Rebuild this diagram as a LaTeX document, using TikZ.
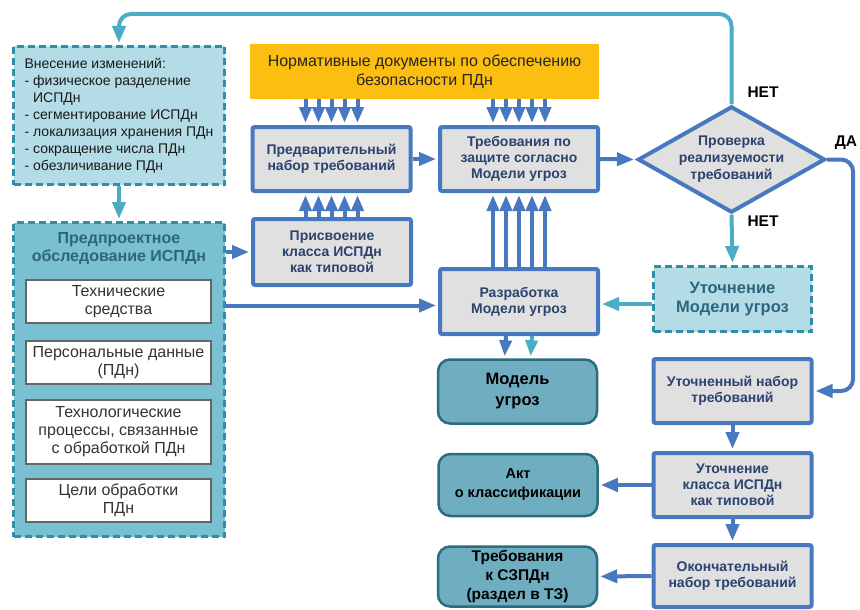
\documentclass[tikz,border=0pt]{standalone}
\usepackage{fontspec}
\setmainfont{Liberation Sans}
\usetikzlibrary{shapes.geometric,arrows.meta}
\definecolor{boxblue}{RGB}{72,120,192}
\definecolor{lineblue}{RGB}{75,172,198}
\definecolor{boxtext}{RGB}{44,66,112}
\definecolor{boxfill}{RGB}{224,224,224}
\definecolor{changefill}{RGB}{180,220,230}
\definecolor{changeline}{RGB}{50,142,168}
\definecolor{surveyfill}{RGB}{122,192,211}
\definecolor{surveytext}{RGB}{44,102,124}
\definecolor{resultfill}{RGB}{111,173,192}
\definecolor{resultline}{RGB}{44,108,128}
\definecolor{docfill}{RGB}{252,190,17}
\begin{document}
\begin{tikzpicture}[x=1pt,y=-1pt,shorten >=2pt]
        \tikzstyle{stage}=[rectangle,rounded corners=2pt,draw=boxblue,line width=4pt,fill=boxfill,text=boxtext,align=center,inner sep=0pt,minimum width=158pt,minimum height=64pt,font=\fontsize{14}{16}\selectfont\bfseries]
        \tikzstyle{decision}=[diamond,aspect=1.76,draw=boxblue,line width=4pt,fill=boxfill,text=boxtext,align=center,inner sep=0pt,minimum width=183pt,minimum height=102pt,font=\fontsize{14}{17}\selectfont\bfseries]
        \tikzstyle{change}=[rectangle,draw=changeline,dash pattern=on 7pt off 4pt,line width=3pt,fill=changefill,inner sep=0pt]
        \tikzstyle{survey}=[rectangle,draw=changeline,dash pattern=on 7pt off 4pt,line width=3pt,fill=surveyfill,inner sep=0pt]
        \tikzstyle{item}=[rectangle,draw=black!60,line width=2.5pt,fill=white,text=black!80,align=center,inner sep=0pt,minimum width=185pt,minimum height=43pt,font=\fontsize{16}{18}\selectfont]
        \tikzstyle{result}=[rectangle,rounded corners=12pt,draw=resultline,line width=2.5pt,fill=resultfill,align=center,inner sep=0pt,minimum width=159pt,minimum height=64pt,font=\fontsize{15.5}{19}\selectfont\bfseries]
        \tikzstyle{answer}=[font=\fontsize{15.5}{17}\selectfont\bfseries]
        \tikzstyle{edge}=[draw=boxblue,line width=4pt,-{Triangle[length=17pt,width=13pt]}]
        \tikzstyle{feed}=[edge,draw=lineblue]
        \tikzstyle{bundle}=[draw=boxblue,line width=4pt,-{Triangle[length=16pt,width=12pt]}]
        \useasboundingbox (0,0) rectangle (860,610);

        % left column
        \node [change,align=left,minimum width=211pt,minimum height=138pt,text=black!90,font=\fontsize{14}{17}\selectfont] (changes) at (119,115.5) {Внесение изменений:\\- физическое разделение\\\hphantom{- }ИСПДн\\- сегментирование ИСПДн\\- локализация хранения ПДн\\- сокращение числа ПДн\\- обезличивание ПДн};
        \node [survey,minimum width=211pt,minimum height=314pt] (survey) at (119,379.5) {};
        \node [text=surveytext,align=center,font=\fontsize{16}{18}\selectfont\bfseries] (surveyT) at (119,249) {Предпроектное\\обследование ИСПДн};
        \node [item] (hw) at (118.5,301.5) {Технические\\средства};
        \node [item] (pd) at (118.5,362.5) {Персональные данные\\(ПДн)};
        \node [item,minimum height=64pt] (proc) at (118.5,432) {Технологические\\процессы, связанные\\с обработкой ПДн};
        \node [item] (goal) at (118.5,500.5) {Цели обработки\\ПДн};

        % middle
        \node [rectangle,fill=docfill,minimum width=349pt,minimum height=55pt,align=center,text=black!85,font=\fontsize{16}{19}\selectfont] (norms) at (424.5,71.5) {Нормативные документы по обеспечению\\безопасности ПДн};
        \node [stage] (prev) at (331.5,159) {Предварительный\\набор требований};
        \node [stage,minimum height=66pt] (assign) at (332,252) {Присвоение\\класса ИСПДн\\как типовой};
        \node [stage] (req) at (519,159) {Требования по\\защите согласно\\Модели угроз};
        \node [stage,minimum height=65pt] (dev) at (519,301.5) {Разработка\\Модели угроз};
        \node [result,font=\fontsize{16.5}{21}\selectfont\bfseries] (model) at (517.5,391.5) {Модель\\угроз};
        \node [result,minimum height=62pt,font=\fontsize{14.5}{19}\selectfont\bfseries] (act) at (518,485) {Акт\\о классификации};
        \node [result,minimum height=60pt] (law) at (517.5,576.5) {Требования\\к СЗПДн\\(раздел в ТЗ)};

        % right column
        \node [decision] (check) at (731.5,159.5) {Проверка\\реализуемости\\требований};
        \node [change,minimum width=158pt,minimum height=65pt,align=center,text=surveytext,font=\fontsize{16.5}{19}\selectfont\bfseries] (refine) at (732.5,299) {Уточнение\\Модели угроз};
        \node [stage] (refset) at (732.5,391) {Уточненный набор\\требований};
        \node [stage] (reclass) at (732.5,485) {Уточнение\\класса ИСПДн\\как типовой};
        \node [stage,minimum height=62pt] (final) at (732.5,576) {Окончательный\\набор требований};

        \node [answer] (no1) at (763,92) {НЕТ};
        \node [answer] (yes) at (846,143) {ДА};
        \node [answer] (no2) at (763,221) {НЕТ};

        % connectors
        \draw[feed] (changes.south) -- (survey.north);
        \draw[feed,rounded corners=12pt] (check.north) |- ([yshift=31pt]changes.north) -- (changes.north);
        \draw[edge] (assign.west -| survey.east) -- (assign.west);
        \draw[edge] ([yshift=-4pt]dev.west -| survey.east) -- ([yshift=-4pt]dev.west);
        \draw[edge] (prev.east) -- (req.west);
        \draw[edge] (req.east) -- (check.west);
        \foreach \d in {-26,-13,0,13,26} {
          \draw[bundle] ([xshift=\d pt]prev.north |- norms.south) -- ([xshift=\d pt]prev.north);
          \draw[bundle] ([xshift=\d pt]req.north |- norms.south) -- ([xshift=\d pt]req.north);
          \draw[bundle] ([xshift=\d pt]prev.south |- assign.north) -- ([xshift=\d pt]prev.south);
          \draw[bundle] ([xshift=\d pt]req.south |- dev.north) -- ([xshift=\d pt]req.south);
        }
        \draw[bundle] ([xshift=-13pt]dev.south) -- ([xshift=-13pt]model.north);
        \draw[bundle,draw=lineblue] ([xshift=13pt]dev.south) -- ([xshift=13pt]model.north);
        \draw[feed] (check.south) -- (refine.north);
        \draw[edge,rounded corners=12pt] (check.east) -- ++(26,0) |- (refset.east);
        \draw[feed] ([yshift=-5pt]refine.west) -- ([yshift=-5pt]refine.west -| dev.east);
        \draw[edge] (refset.south) -- (reclass.north);
        \draw[edge] (reclass.south) -- (final.north);
        \draw[edge] (reclass.west) -- (act.east);
        \draw[edge] (final.west) -- (law.east);
\end{tikzpicture}
\end{document}
